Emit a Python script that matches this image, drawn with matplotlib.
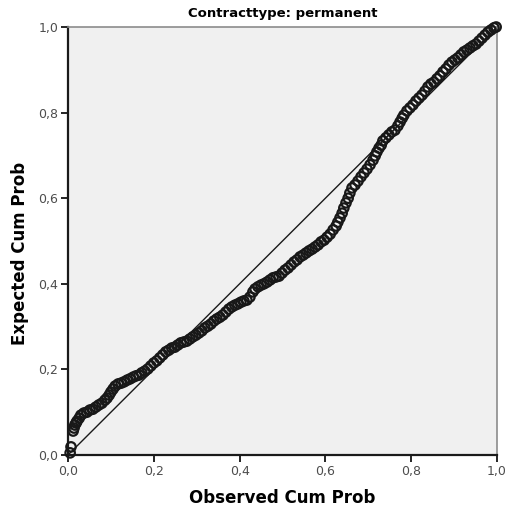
import matplotlib
matplotlib.use("Agg")
import matplotlib.pyplot as plt
from matplotlib.ticker import FuncFormatter

# P-P plot: observed vs expected cumulative probability
observed = [
    0.005, 0.007, 0.012, 0.014, 0.016, 0.019, 0.021, 0.026, 0.030, 0.037,
    0.044, 0.051, 0.058, 0.065, 0.072, 0.079, 0.086, 0.091, 0.096, 0.100,
    0.105, 0.110, 0.117, 0.124, 0.131, 0.138, 0.145, 0.152, 0.159, 0.166,
    0.172, 0.179, 0.186, 0.193, 0.200, 0.207, 0.214, 0.221, 0.228, 0.235,
    0.242, 0.249, 0.256, 0.263, 0.270, 0.277, 0.284, 0.291, 0.298, 0.305,
    0.312, 0.319, 0.326, 0.333, 0.340, 0.347, 0.354, 0.361, 0.368, 0.375,
    0.382, 0.389, 0.396, 0.403, 0.410, 0.417, 0.424, 0.431, 0.436, 0.443,
    0.450, 0.457, 0.464, 0.471, 0.478, 0.485, 0.492, 0.499, 0.506, 0.513,
    0.520, 0.527, 0.534, 0.541, 0.548, 0.555, 0.562, 0.569, 0.576, 0.583,
    0.590, 0.597, 0.604, 0.611, 0.618, 0.625, 0.629, 0.634, 0.639, 0.643,
    0.648, 0.653, 0.657, 0.662, 0.669, 0.676, 0.683, 0.690, 0.697, 0.704,
    0.711, 0.716, 0.720, 0.725, 0.730, 0.734, 0.741, 0.748, 0.755, 0.762,
    0.769, 0.774, 0.779, 0.783, 0.790, 0.797, 0.804, 0.811, 0.818, 0.825,
    0.832, 0.839, 0.846, 0.853, 0.860, 0.867, 0.874, 0.881, 0.888, 0.895,
    0.902, 0.909, 0.916, 0.923, 0.930, 0.937, 0.944, 0.951, 0.958, 0.965,
    0.972, 0.979, 0.986, 0.993, 0.998,
]
expected = [
    0.005, 0.019, 0.056, 0.063, 0.070, 0.075, 0.079, 0.086, 0.093, 0.098,
    0.100, 0.105, 0.107, 0.112, 0.117, 0.121, 0.128, 0.133, 0.140, 0.147,
    0.154, 0.161, 0.166, 0.168, 0.171, 0.175, 0.178, 0.182, 0.185, 0.187,
    0.192, 0.196, 0.201, 0.208, 0.215, 0.220, 0.227, 0.234, 0.241, 0.245,
    0.250, 0.252, 0.257, 0.262, 0.264, 0.266, 0.271, 0.276, 0.280, 0.285,
    0.290, 0.297, 0.301, 0.306, 0.313, 0.318, 0.322, 0.327, 0.334, 0.341,
    0.346, 0.350, 0.353, 0.357, 0.360, 0.362, 0.369, 0.381, 0.388, 0.393,
    0.397, 0.400, 0.404, 0.409, 0.414, 0.416, 0.418, 0.425, 0.432, 0.437,
    0.444, 0.451, 0.456, 0.463, 0.467, 0.472, 0.477, 0.481, 0.486, 0.491,
    0.498, 0.502, 0.509, 0.516, 0.526, 0.535, 0.544, 0.554, 0.565, 0.577,
    0.589, 0.600, 0.612, 0.624, 0.631, 0.640, 0.650, 0.659, 0.668, 0.678,
    0.689, 0.699, 0.708, 0.717, 0.724, 0.734, 0.741, 0.748, 0.755, 0.759,
    0.769, 0.778, 0.787, 0.794, 0.804, 0.811, 0.818, 0.827, 0.834, 0.841,
    0.850, 0.860, 0.867, 0.871, 0.879, 0.886, 0.895, 0.902, 0.911, 0.918,
    0.923, 0.928, 0.935, 0.942, 0.946, 0.951, 0.956, 0.960, 0.967, 0.974,
    0.981, 0.988, 0.993, 0.998, 1.000,
]
ref_line = [0.0, 1.0]
tick_values = [0.0, 0.2, 0.4, 0.6, 0.8, 1.0]

title = "Contracttype: permanent"
xlabel = "Observed Cum Prob"
ylabel = "Expected Cum Prob"

fig = plt.figure(figsize=(5.08, 5.13), dpi=100)
ax = fig.add_axes([68 / 508, 58 / 513, 429 / 508, 428 / 513])
ax.set_facecolor("#f0f0f0")

ax.plot(ref_line, ref_line, color="#1a1a1a", lw=1.0, zorder=2)
ax.scatter(observed, expected, s=46, facecolors="none",
           edgecolors="#181818", linewidths=1.6, zorder=3, clip_on=False)

ax.set_xlim(0, 1)
ax.set_ylim(0, 1)
ax.set_xticks(tick_values)
ax.set_yticks(tick_values)
fmt = FuncFormatter(lambda v, p: f"{v:.1f}".replace(".", ","))
ax.xaxis.set_major_formatter(fmt)
ax.yaxis.set_major_formatter(fmt)
ax.tick_params(direction="out", length=5, width=1.2, colors="#000000",
               labelcolor="#4d4d4d", labelsize=9, pad=2)

for side in ("left", "bottom"):
    ax.spines[side].set_color("#1a1a1a")
    ax.spines[side].set_linewidth(1.6)
for side in ("top", "right"):
    ax.spines[side].set_color("#8c8c8c")
    ax.spines[side].set_linewidth(1.2)

ax.set_title(title, fontsize=9.5, fontweight="bold", pad=7)
ax.set_xlabel(xlabel, fontsize=12, fontweight="bold", labelpad=8)
ax.set_ylabel(ylabel, fontsize=12, fontweight="bold")
ax.yaxis.set_label_coords(-0.091, 0.47)

fig.savefig("out.png", dpi=100, facecolor="white")
